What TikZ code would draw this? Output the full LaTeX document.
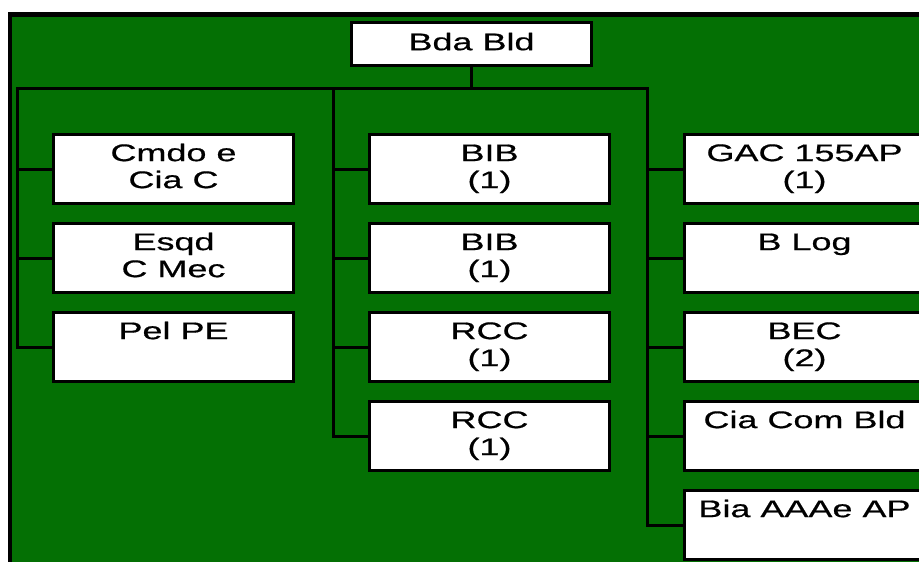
\documentclass[tikz,border=0pt]{standalone}
\usepackage{fontspec}
\setmainfont{Liberation Sans}[FakeStretch=1.5,FakeBold=0.6]
\definecolor{field}{RGB}{4,112,4}

\begin{document}
\begin{tikzpicture}[x=1pt,y=-1pt,
  unit/.style={draw=black,fill=white,line width=3pt,
    minimum width=240pt,minimum height=69pt,inner sep=0pt},
  headunit/.style={draw=black,fill=white,line width=3pt,
    minimum width=240pt,minimum height=43pt,inner sep=0pt,
    font=\fontsize{24}{27}\selectfont,text depth=5pt},
  caption/.style={anchor=north,inner sep=0pt,align=center,
    font=\fontsize{24}{27}\selectfont},
  link/.style={draw=black,line width=3pt}]
\useasboundingbox (0,0) rectangle (919,562);
\begin{scope}
\clip (0,0) rectangle (919,562);
% frame and background
\draw[line width=4.5pt,fill=field] (10,14.5) rectangle (950,600);

% bus coordinates
\coordinate (busL) at (17,88.5);
\coordinate (busM) at (333,88.5);
\coordinate (busR) at (647.5,88.5);

% head unit
\node[headunit] (head) at (471.5,44) {Bda Bld};

% left column
\node[unit] (l1) at (173.5,169) {};
\node[unit] (l2) at (173.5,258) {};
\node[unit] (l3) at (173.5,347) {};
% middle column
\node[unit] (m1) at (489.5,169) {};
\node[unit] (m2) at (489.5,258) {};
\node[unit] (m3) at (489.5,347) {};
\node[unit] (m4) at (489.5,436) {};
% right column
\node[unit] (r1) at (804.5,169) {};
\node[unit] (r2) at (804.5,258) {};
\node[unit] (r3) at (804.5,347) {};
\node[unit] (r4) at (804.5,436) {};
\node[unit] (r5) at (804.5,525) {};

% connectors
\draw[link] (head.south) -- (head.south |- busL);
\draw[link] (l3.west) -| (busL) -- (busR) |- (r5.west);
\draw[link] (l1.west) -| (busL);
\draw[link] (l2.west) -| (busL);
\draw[link] (m4.west) -| (busM);
\draw[link] (m1.west) -| (busM);
\draw[link] (m2.west) -| (busM);
\draw[link] (m3.west) -| (busM);
\draw[link] (r1.west) -| (busR);
\draw[link] (r2.west) -| (busR);
\draw[link] (r3.west) -| (busR);
\draw[link] (r4.west) -| (busR);

% captions
\node[caption] (tl1) at ([yshift=-9pt]l1.north) {\strut Cmdo e\\Cia C};
\node[caption] (tl2) at ([yshift=-9pt]l2.north) {\strut Esqd\\C Mec};
\node[caption] (tl3) at ([yshift=-9pt]l3.north) {\strut Pel PE};
\node[caption] (tm1) at ([yshift=-9pt]m1.north) {\strut BIB\\(1)};
\node[caption] (tm2) at ([yshift=-9pt]m2.north) {\strut BIB\\(1)};
\node[caption] (tm3) at ([yshift=-9pt]m3.north) {\strut RCC\\(1)};
\node[caption] (tm4) at ([yshift=-9pt]m4.north) {\strut RCC\\(1)};
\node[caption] (tr1) at ([yshift=-9pt]r1.north) {\strut GAC 155AP\\(1)};
\node[caption] (tr2) at ([yshift=-9pt]r2.north) {\strut B Log};
\node[caption] (tr3) at ([yshift=-9pt]r3.north) {\strut BEC\\(2)};
\node[caption] (tr4) at ([yshift=-9pt]r4.north) {\strut Cia Com Bld};
\node[caption] (tr5) at ([yshift=-9pt]r5.north) {\strut Bia AAAe AP};
\end{scope}
\end{tikzpicture}
\end{document}
